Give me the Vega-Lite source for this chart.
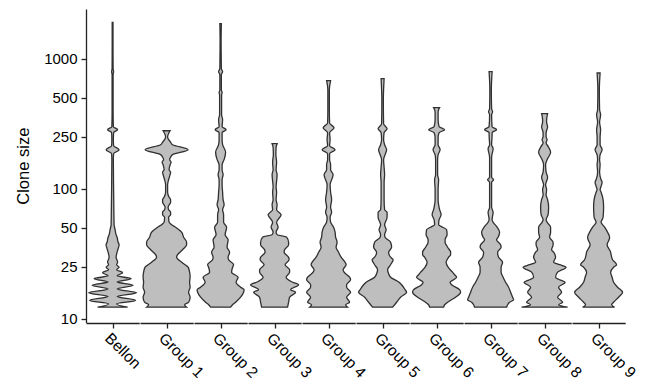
{
  "$schema": "https://vega.github.io/schema/vega-lite/v6.json",
  "padding": {"left": 15, "top": 9, "right": 0, "bottom": 0},
  "config": {
    "view": {"stroke": null},
    "font": "Liberation Sans",
    "axis": {"grid": false, "domainColor": "#222", "tickColor": "#222", "domainWidth": 1.3, "tickWidth": 1.3, "tickSize": 5, "labelColor": "#000", "titleColor": "#000", "labelFont": "Liberation Sans", "titleFont": "Liberation Sans"}
  },
  "data": {"values": [
    {"g":"Bellon","size":12.26,"w":30},{"g":"Bellon","size":13.0,"w":8},{"g":"Bellon","size":13.83,"w":46},{"g":"Bellon","size":14.82,"w":9},{"g":"Bellon","size":15.85,"w":48},{"g":"Bellon","size":16.95,"w":9},{"g":"Bellon","size":18.10,"w":41},{"g":"Bellon","size":19.19,"w":9},{"g":"Bellon","size":20.31,"w":37},{"g":"Bellon","size":21.4,"w":9},{"g":"Bellon","size":22.59,"w":20},{"g":"Bellon","size":23.82,"w":8},{"g":"Bellon","size":24.90,"w":13},{"g":"Bellon","size":26.03,"w":8},{"g":"Bellon","size":27.20,"w":10},{"g":"Bellon","size":29.72,"w":7},{"g":"Bellon","size":32.48,"w":9},{"g":"Bellon","size":35.48,"w":12},{"g":"Bellon","size":37.09,"w":13},{"g":"Bellon","size":38.77,"w":11},{"g":"Bellon","size":42.36,"w":9},{"g":"Bellon","size":44.28,"w":7},{"g":"Bellon","size":48.38,"w":5},{"g":"Bellon","size":52.86,"w":3},{"g":"Bellon","size":68.94,"w":2.5},{"g":"Bellon","size":98.24,"w":2},{"g":"Bellon","size":167.2,"w":1.5},{"g":"Bellon","size":185.8,"w":2},{"g":"Bellon","size":199.5,"w":13},{"g":"Bellon","size":214.2,"w":2},{"g":"Bellon","size":238.2,"w":1.5},{"g":"Bellon","size":269.7,"w":2},{"g":"Bellon","size":284.3,"w":10},{"g":"Bellon","size":299.9,"w":1.5},{"g":"Bellon","size":405.3,"w":1},{"g":"Bellon","size":753.2,"w":1},{"g":"Bellon","size":794,"w":2},{"g":"Bellon","size":837,"w":1},{"g":"Bellon","size":1400,"w":0.8},{"g":"Bellon","size":1900,"w":0.8},

    {"g":"Group 1","size":12.26,"w":40},{"g":"Group 1","size":12.81,"w":36},{"g":"Group 1","size":13.39,"w":44},{"g":"Group 1","size":14.64,"w":47},{"g":"Group 1","size":15.99,"w":44},{"g":"Group 1","size":17.47,"w":47},{"g":"Group 1","size":19.09,"w":46},{"g":"Group 1","size":20.86,"w":47},{"g":"Group 1","size":22.79,"w":46},{"g":"Group 1","size":24.90,"w":43},{"g":"Group 1","size":27.20,"w":30},{"g":"Group 1","size":29.72,"w":20},{"g":"Group 1","size":31.07,"w":22},{"g":"Group 1","size":33.95,"w":32},{"g":"Group 1","size":37.09,"w":40},{"g":"Group 1","size":38.77,"w":40},{"g":"Group 1","size":42.36,"w":34},{"g":"Group 1","size":46.28,"w":30},{"g":"Group 1","size":50.57,"w":18},{"g":"Group 1","size":52.86,"w":10},{"g":"Group 1","size":55.25,"w":5},{"g":"Group 1","size":60.37,"w":4},{"g":"Group 1","size":63.10,"w":8},{"g":"Group 1","size":65.96,"w":8},{"g":"Group 1","size":68.94,"w":4},{"g":"Group 1","size":72.06,"w":3},{"g":"Group 1","size":78.73,"w":8},{"g":"Group 1","size":82.29,"w":8},{"g":"Group 1","size":86.01,"w":5},{"g":"Group 1","size":93.97,"w":2},{"g":"Group 1","size":107.3,"w":2},{"g":"Group 1","size":117.3,"w":4},{"g":"Group 1","size":128.2,"w":7},{"g":"Group 1","size":134.0,"w":8},{"g":"Group 1","size":140.0,"w":5},{"g":"Group 1","size":153.0,"w":7},{"g":"Group 1","size":159.9,"w":9},{"g":"Group 1","size":167.2,"w":6},{"g":"Group 1","size":174.7,"w":8},{"g":"Group 1","size":182.7,"w":12},{"g":"Group 1","size":199.5,"w":43},{"g":"Group 1","size":218.0,"w":12},{"g":"Group 1","size":227.9,"w":8},{"g":"Group 1","size":249.0,"w":2},{"g":"Group 1","size":260.3,"w":3},{"g":"Group 1","size":279,"w":7},

    {"g":"Group 2","size":12.26,"w":20},{"g":"Group 2","size":12.81,"w":24},{"g":"Group 2","size":13.39,"w":30},{"g":"Group 2","size":14.64,"w":40},{"g":"Group 2","size":15.99,"w":46},{"g":"Group 2","size":16.72,"w":47},{"g":"Group 2","size":17.47,"w":40},{"g":"Group 2","size":19.09,"w":31},{"g":"Group 2","size":20.86,"w":35},{"g":"Group 2","size":22.79,"w":22},{"g":"Group 2","size":24.90,"w":24},{"g":"Group 2","size":26.03,"w":26},{"g":"Group 2","size":28.43,"w":16},{"g":"Group 2","size":29.72,"w":15},{"g":"Group 2","size":32.48,"w":18},{"g":"Group 2","size":35.48,"w":13},{"g":"Group 2","size":40.53,"w":15},{"g":"Group 2","size":44.28,"w":9},{"g":"Group 2","size":50.57,"w":12},{"g":"Group 2","size":55.25,"w":6},{"g":"Group 2","size":63.10,"w":6},{"g":"Group 2","size":68.94,"w":4},{"g":"Group 2","size":75.32,"w":7},{"g":"Group 2","size":82.29,"w":5},{"g":"Group 2","size":93.97,"w":4},{"g":"Group 2","size":107.3,"w":3},{"g":"Group 2","size":117.3,"w":3},{"g":"Group 2","size":128.2,"w":5},{"g":"Group 2","size":140.0,"w":3},{"g":"Group 2","size":153.0,"w":3},{"g":"Group 2","size":167.2,"w":7},{"g":"Group 2","size":190.9,"w":10},{"g":"Group 2","size":218.0,"w":4},{"g":"Group 2","size":238.2,"w":3},{"g":"Group 2","size":269.7,"w":3},{"g":"Group 2","size":284.3,"w":11},{"g":"Group 2","size":299.9,"w":3},{"g":"Group 2","size":339.5,"w":4},{"g":"Group 2","size":370.9,"w":2},{"g":"Group 2","size":528.6,"w":2},{"g":"Group 2","size":547.6,"w":3},{"g":"Group 2","size":577.5,"w":1.5},{"g":"Group 2","size":753.2,"w":1.5},{"g":"Group 2","size":794,"w":4},{"g":"Group 2","size":837,"w":1.5},{"g":"Group 2","size":1400,"w":1},{"g":"Group 2","size":1858,"w":1.5},

    {"g":"Group 3","size":12.26,"w":26},{"g":"Group 3","size":13.39,"w":28},{"g":"Group 3","size":14.64,"w":30},{"g":"Group 3","size":15.99,"w":42},{"g":"Group 3","size":16.72,"w":32},{"g":"Group 3","size":18.26,"w":48},{"g":"Group 3","size":19.09,"w":36},{"g":"Group 3","size":20.86,"w":23},{"g":"Group 3","size":22.79,"w":30},{"g":"Group 3","size":23.82,"w":30},{"g":"Group 3","size":26.03,"w":21},{"g":"Group 3","size":28.43,"w":29},{"g":"Group 3","size":29.72,"w":28},{"g":"Group 3","size":32.48,"w":19},{"g":"Group 3","size":33.95,"w":20},{"g":"Group 3","size":37.09,"w":28},{"g":"Group 3","size":38.77,"w":28},{"g":"Group 3","size":42.36,"w":24},{"g":"Group 3","size":44.28,"w":5},{"g":"Group 3","size":46.28,"w":3},{"g":"Group 3","size":50.57,"w":7},{"g":"Group 3","size":55.25,"w":4},{"g":"Group 3","size":63.10,"w":13},{"g":"Group 3","size":68.94,"w":4},{"g":"Group 3","size":75.32,"w":5},{"g":"Group 3","size":82.29,"w":3},{"g":"Group 3","size":93.97,"w":4},{"g":"Group 3","size":102.7,"w":3},{"g":"Group 3","size":128.2,"w":5},{"g":"Group 3","size":140.0,"w":3},{"g":"Group 3","size":159.9,"w":4},{"g":"Group 3","size":182.7,"w":2.5},{"g":"Group 3","size":208.6,"w":3},{"g":"Group 3","size":222,"w":5},

    {"g":"Group 4","size":12.26,"w":38},{"g":"Group 4","size":12.81,"w":34},{"g":"Group 4","size":13.39,"w":42},{"g":"Group 4","size":14.64,"w":36},{"g":"Group 4","size":15.99,"w":44},{"g":"Group 4","size":17.47,"w":36},{"g":"Group 4","size":18.26,"w":36},{"g":"Group 4","size":19.95,"w":44},{"g":"Group 4","size":20.86,"w":42},{"g":"Group 4","size":22.79,"w":31},{"g":"Group 4","size":23.82,"w":29},{"g":"Group 4","size":26.03,"w":35},{"g":"Group 4","size":27.20,"w":33},{"g":"Group 4","size":29.72,"w":25},{"g":"Group 4","size":32.48,"w":20},{"g":"Group 4","size":35.48,"w":15},{"g":"Group 4","size":38.77,"w":17},{"g":"Group 4","size":42.36,"w":14},{"g":"Group 4","size":46.28,"w":13},{"g":"Group 4","size":50.57,"w":10},{"g":"Group 4","size":55.25,"w":4},{"g":"Group 4","size":60.37,"w":3},{"g":"Group 4","size":65.96,"w":6},{"g":"Group 4","size":72.06,"w":4},{"g":"Group 4","size":82.29,"w":6},{"g":"Group 4","size":93.97,"w":4},{"g":"Group 4","size":107.3,"w":3},{"g":"Group 4","size":122.6,"w":8},{"g":"Group 4","size":128.2,"w":9},{"g":"Group 4","size":140.0,"w":4},{"g":"Group 4","size":153.0,"w":4},{"g":"Group 4","size":167.2,"w":2},{"g":"Group 4","size":185.8,"w":2},{"g":"Group 4","size":199.5,"w":13},{"g":"Group 4","size":214.2,"w":2},{"g":"Group 4","size":238.2,"w":3},{"g":"Group 4","size":269.7,"w":2},{"g":"Group 4","size":294,"w":11},{"g":"Group 4","size":320,"w":2},{"g":"Group 4","size":405.3,"w":1.5},{"g":"Group 4","size":577.5,"w":1.5},{"g":"Group 4","size":677,"w":4},

    {"g":"Group 5","size":12.26,"w":20},{"g":"Group 5","size":12.81,"w":24},{"g":"Group 5","size":13.39,"w":28},{"g":"Group 5","size":14.64,"w":36},{"g":"Group 5","size":15.99,"w":48},{"g":"Group 5","size":16.72,"w":45},{"g":"Group 5","size":18.26,"w":38},{"g":"Group 5","size":19.09,"w":33},{"g":"Group 5","size":20.86,"w":16},{"g":"Group 5","size":22.79,"w":11},{"g":"Group 5","size":23.82,"w":10},{"g":"Group 5","size":26.03,"w":16},{"g":"Group 5","size":28.43,"w":21},{"g":"Group 5","size":29.72,"w":16},{"g":"Group 5","size":32.48,"w":12},{"g":"Group 5","size":35.48,"w":18},{"g":"Group 5","size":38.77,"w":16},{"g":"Group 5","size":42.36,"w":5},{"g":"Group 5","size":44.28,"w":4},{"g":"Group 5","size":48.38,"w":7},{"g":"Group 5","size":52.86,"w":4},{"g":"Group 5","size":60.37,"w":9},{"g":"Group 5","size":65.96,"w":9},{"g":"Group 5","size":68.94,"w":4},{"g":"Group 5","size":82.29,"w":3},{"g":"Group 5","size":98.24,"w":3},{"g":"Group 5","size":112.2,"w":3},{"g":"Group 5","size":128.2,"w":4},{"g":"Group 5","size":146.4,"w":3},{"g":"Group 5","size":167.2,"w":2},{"g":"Group 5","size":182.7,"w":5},{"g":"Group 5","size":199.5,"w":8},{"g":"Group 5","size":218.0,"w":4},{"g":"Group 5","size":238.2,"w":2},{"g":"Group 5","size":269.7,"w":3},{"g":"Group 5","size":289.4,"w":9},{"g":"Group 5","size":316.2,"w":2},{"g":"Group 5","size":483.8,"w":1.5},{"g":"Group 5","size":701.8,"w":3},

    {"g":"Group 6","size":12.26,"w":14},{"g":"Group 6","size":12.81,"w":16},{"g":"Group 6","size":13.39,"w":22},{"g":"Group 6","size":14.64,"w":38},{"g":"Group 6","size":15.99,"w":48},{"g":"Group 6","size":16.72,"w":46},{"g":"Group 6","size":18.26,"w":30},{"g":"Group 6","size":19.09,"w":27},{"g":"Group 6","size":19.95,"w":34},{"g":"Group 6","size":20.86,"w":40},{"g":"Group 6","size":21.80,"w":36},{"g":"Group 6","size":22.79,"w":32},{"g":"Group 6","size":24.90,"w":23},{"g":"Group 6","size":27.20,"w":19},{"g":"Group 6","size":29.72,"w":24},{"g":"Group 6","size":31.07,"w":28},{"g":"Group 6","size":32.48,"w":28},{"g":"Group 6","size":35.48,"w":22},{"g":"Group 6","size":38.77,"w":17},{"g":"Group 6","size":40.53,"w":17},{"g":"Group 6","size":44.28,"w":21},{"g":"Group 6","size":48.38,"w":20},{"g":"Group 6","size":50.57,"w":12},{"g":"Group 6","size":52.86,"w":4},{"g":"Group 6","size":57.75,"w":5},{"g":"Group 6","size":63.10,"w":9},{"g":"Group 6","size":68.94,"w":6},{"g":"Group 6","size":75.32,"w":4},{"g":"Group 6","size":82.29,"w":3},{"g":"Group 6","size":98.24,"w":3},{"g":"Group 6","size":117.3,"w":4},{"g":"Group 6","size":128.2,"w":2},{"g":"Group 6","size":167.2,"w":2},{"g":"Group 6","size":182.7,"w":3},{"g":"Group 6","size":199.5,"w":7},{"g":"Group 6","size":218.0,"w":3},{"g":"Group 6","size":249.0,"w":3},{"g":"Group 6","size":269.7,"w":5},{"g":"Group 6","size":284.3,"w":16},{"g":"Group 6","size":299.9,"w":5},{"g":"Group 6","size":339.5,"w":3},{"g":"Group 6","size":387.7,"w":3},{"g":"Group 6","size":405.3,"w":4},{"g":"Group 6","size":420,"w":6},

    {"g":"Group 7","size":12.26,"w":32},{"g":"Group 7","size":12.81,"w":34},{"g":"Group 7","size":13.39,"w":38},{"g":"Group 7","size":14.00,"w":46},{"g":"Group 7","size":14.64,"w":44},{"g":"Group 7","size":15.99,"w":40},{"g":"Group 7","size":17.47,"w":36},{"g":"Group 7","size":19.09,"w":30},{"g":"Group 7","size":20.86,"w":25},{"g":"Group 7","size":22.79,"w":21},{"g":"Group 7","size":24.90,"w":21},{"g":"Group 7","size":27.20,"w":24},{"g":"Group 7","size":29.72,"w":16},{"g":"Group 7","size":32.48,"w":14},{"g":"Group 7","size":35.48,"w":21},{"g":"Group 7","size":37.09,"w":20},{"g":"Group 7","size":40.53,"w":12},{"g":"Group 7","size":42.36,"w":15},{"g":"Group 7","size":46.28,"w":18},{"g":"Group 7","size":50.57,"w":13},{"g":"Group 7","size":55.25,"w":5},{"g":"Group 7","size":57.75,"w":3},{"g":"Group 7","size":65.96,"w":5},{"g":"Group 7","size":72.06,"w":2},{"g":"Group 7","size":82.29,"w":2},{"g":"Group 7","size":102.7,"w":2},{"g":"Group 7","size":112.2,"w":2},{"g":"Group 7","size":117.3,"w":6},{"g":"Group 7","size":122.6,"w":2},{"g":"Group 7","size":174.7,"w":2},{"g":"Group 7","size":203.1,"w":5},{"g":"Group 7","size":218.0,"w":2},{"g":"Group 7","size":260.3,"w":3},{"g":"Group 7","size":269.7,"w":3},{"g":"Group 7","size":284.3,"w":12},{"g":"Group 7","size":299.9,"w":3},{"g":"Group 7","size":370.9,"w":2},{"g":"Group 7","size":390.9,"w":4},{"g":"Group 7","size":412,"w":2},{"g":"Group 7","size":577.5,"w":1.5},{"g":"Group 7","size":794,"w":3},

    {"g":"Group 8","size":12.26,"w":46},{"g":"Group 8","size":12.81,"w":28},{"g":"Group 8","size":13.39,"w":36},{"g":"Group 8","size":14.64,"w":26},{"g":"Group 8","size":15.99,"w":34},{"g":"Group 8","size":17.47,"w":28},{"g":"Group 8","size":19.09,"w":41},{"g":"Group 8","size":19.95,"w":30},{"g":"Group 8","size":20.86,"w":22},{"g":"Group 8","size":22.79,"w":26},{"g":"Group 8","size":24.90,"w":43},{"g":"Group 8","size":26.03,"w":30},{"g":"Group 8","size":27.20,"w":18},{"g":"Group 8","size":29.72,"w":22},{"g":"Group 8","size":32.48,"w":18},{"g":"Group 8","size":33.95,"w":14},{"g":"Group 8","size":37.09,"w":17},{"g":"Group 8","size":38.77,"w":17},{"g":"Group 8","size":42.36,"w":10},{"g":"Group 8","size":46.28,"w":12},{"g":"Group 8","size":50.57,"w":12},{"g":"Group 8","size":55.25,"w":5},{"g":"Group 8","size":57.75,"w":3},{"g":"Group 8","size":63.10,"w":7},{"g":"Group 8","size":72.06,"w":8},{"g":"Group 8","size":82.29,"w":6},{"g":"Group 8","size":89.90,"w":3},{"g":"Group 8","size":98.24,"w":4},{"g":"Group 8","size":107.3,"w":2},{"g":"Group 8","size":122.6,"w":6},{"g":"Group 8","size":134.0,"w":3},{"g":"Group 8","size":153.0,"w":2},{"g":"Group 8","size":167.2,"w":5},{"g":"Group 8","size":190.9,"w":12},{"g":"Group 8","size":208.6,"w":8},{"g":"Group 8","size":225.9,"w":3},{"g":"Group 8","size":238.2,"w":5},{"g":"Group 8","size":251,"w":3},{"g":"Group 8","size":269.7,"w":3},{"g":"Group 8","size":299.9,"w":6},{"g":"Group 8","size":324.8,"w":4},{"g":"Group 8","size":339.5,"w":4},{"g":"Group 8","size":377.5,"w":6},

    {"g":"Group 9","size":12.26,"w":32},{"g":"Group 9","size":12.81,"w":26},{"g":"Group 9","size":13.39,"w":30},{"g":"Group 9","size":14.64,"w":40},{"g":"Group 9","size":15.99,"w":48},{"g":"Group 9","size":17.47,"w":38},{"g":"Group 9","size":19.09,"w":30},{"g":"Group 9","size":20.86,"w":27},{"g":"Group 9","size":22.79,"w":24},{"g":"Group 9","size":24.90,"w":30},{"g":"Group 9","size":26.03,"w":36},{"g":"Group 9","size":28.43,"w":28},{"g":"Group 9","size":31.07,"w":25},{"g":"Group 9","size":32.48,"w":24},{"g":"Group 9","size":37.09,"w":17},{"g":"Group 9","size":40.53,"w":21},{"g":"Group 9","size":42.36,"w":22},{"g":"Group 9","size":46.28,"w":18},{"g":"Group 9","size":50.57,"w":12},{"g":"Group 9","size":55.25,"w":5},{"g":"Group 9","size":60.37,"w":9},{"g":"Group 9","size":72.06,"w":10},{"g":"Group 9","size":82.29,"w":9},{"g":"Group 9","size":93.97,"w":5},{"g":"Group 9","size":98.24,"w":3},{"g":"Group 9","size":107.3,"w":6},{"g":"Group 9","size":112.2,"w":7},{"g":"Group 9","size":117.3,"w":5},{"g":"Group 9","size":134.0,"w":2},{"g":"Group 9","size":153.0,"w":3},{"g":"Group 9","size":167.2,"w":2},{"g":"Group 9","size":182.7,"w":3},{"g":"Group 9","size":199.5,"w":7},{"g":"Group 9","size":218.0,"w":3},{"g":"Group 9","size":249.0,"w":3},{"g":"Group 9","size":284.3,"w":4},{"g":"Group 9","size":324.8,"w":2},{"g":"Group 9","size":370.9,"w":4},{"g":"Group 9","size":405.3,"w":2},{"g":"Group 9","size":577.5,"w":1.5},{"g":"Group 9","size":776,"w":3}
  ]},
  "facet": {
    "column": {
      "field": "g", "type": "nominal",
      "sort": ["Bellon","Group 1","Group 2","Group 3","Group 4","Group 5","Group 6","Group 7","Group 8","Group 9"],
      "header": {"title": null, "labelOrient": "bottom", "labelAngle": 45, "labelAlign": "left", "labelBaseline": "top", "labelFont": "Liberation Sans", "labelFontSize": 15.5, "labelColor": "#000", "labelPadding": 2}
    }
  },
  "spacing": 0,
  "spec": {
    "width": 53.2,
    "height": 313.4,
    "mark": {"type": "area", "orient": "horizontal", "fill": "#bebebe", "stroke": "#303030", "strokeWidth": 1.3, "interpolate": "monotone"},
    "encoding": {
      "y": {"field": "size", "type": "quantitative", "scale": {"type": "log", "domain": [9.37, 2410], "nice": false}, "axis": {"values": [10, 25, 50, 100, 250, 500, 1000], "format": "d", "title": "Clone size", "labelFontSize": 15, "titleFontSize": 16.5, "titleFontWeight": "normal", "labelPadding": 4, "titlePadding": 12}},
      "x": {"field": "w", "type": "quantitative", "stack": "center", "impute": null, "scale": {"domain": [-2.6, 50.6], "nice": false, "zero": false}, "axis": {"values": [24], "labels": false, "title": null}}
    }
  }
}
